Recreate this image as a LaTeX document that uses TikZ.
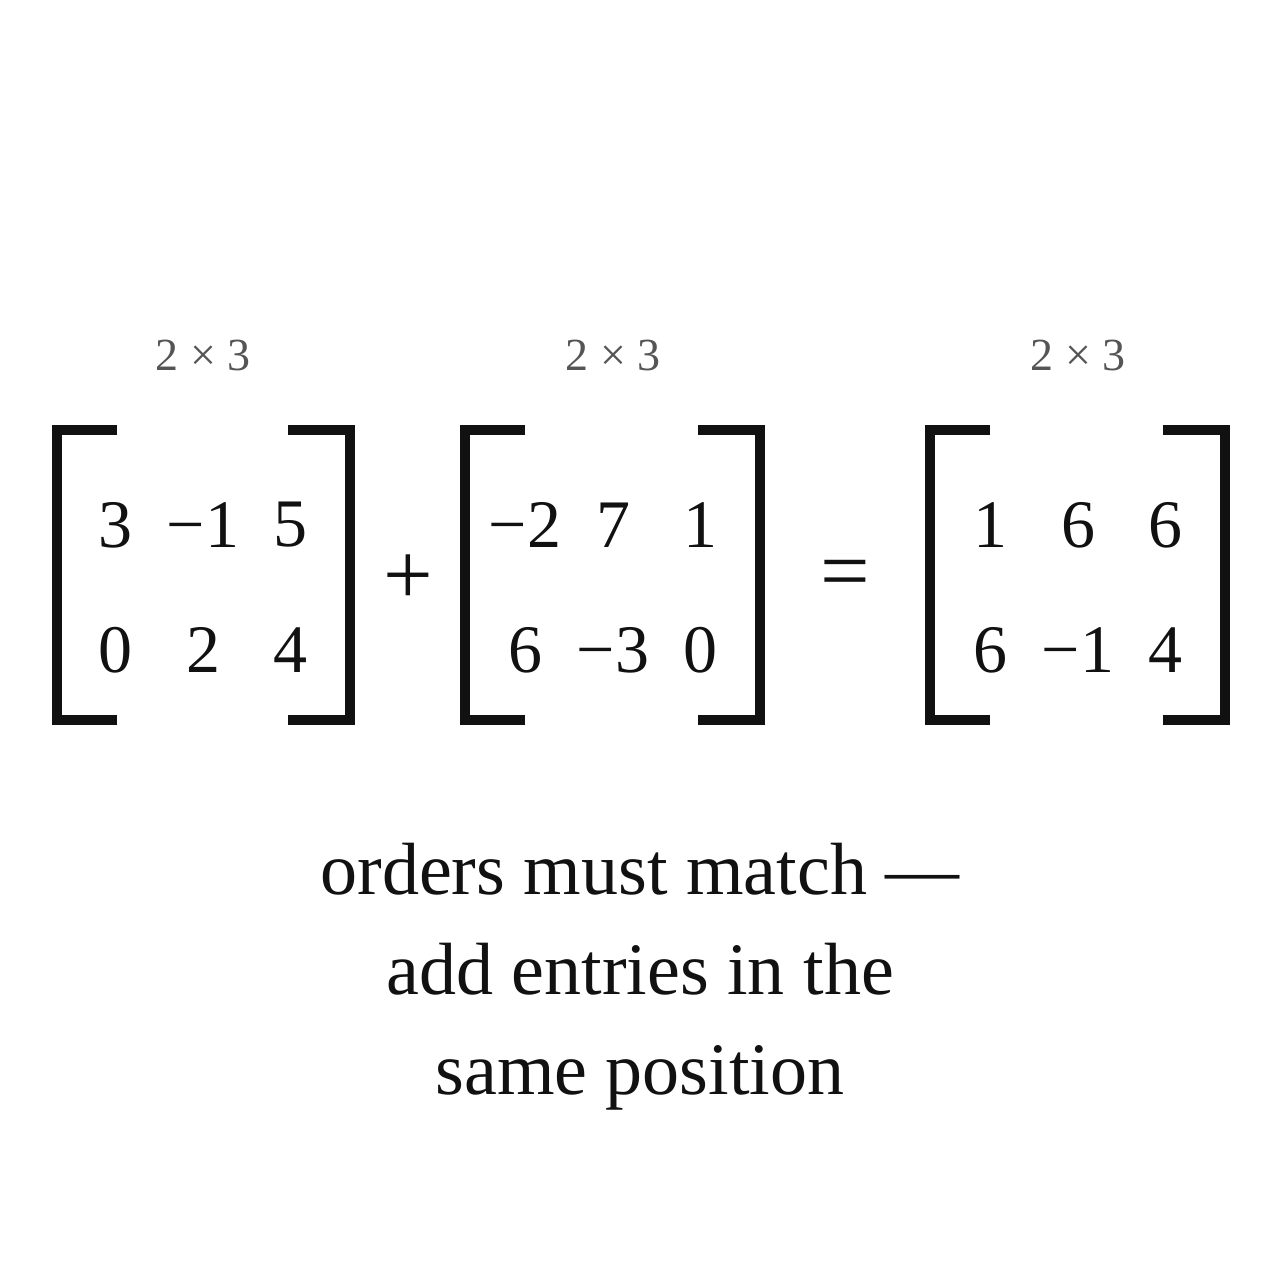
\documentclass[tikz,border=0pt]{standalone}
\usepackage{fontspec}
\setmainfont{Liberation Serif}
\begin{document}
\begin{tikzpicture}[x=0.5pt,y=-0.5pt,
  br/.style={line width=5pt,color={rgb,255:red,17;green,17;blue,17}},
  en/.style={font=\fontsize{34}{40}\selectfont,text={rgb,255:red,17;green,17;blue,17}},
  op/.style={font=\fontsize{44}{50}\selectfont,text={rgb,255:red,17;green,17;blue,17}},
  dim/.style={font=\fontsize{23}{25}\selectfont,text={rgb,255:red,85;green,85;blue,85}},
  captext/.style={font=\fontsize{37}{50}\selectfont,align=center,text={rgb,255:red,17;green,17;blue,17}}]
\useasboundingbox (0,0) rectangle (1280,1280);
\foreach \l/\r [count=\i] in {57/350,465/760,930/1225}{
  \draw[br] (\l+60,430) -- (\l,430) -- (\l,720) -- (\l+60,720);
  \draw[br] (\r-62,430) -- (\r,430) -- (\r,720) -- (\r-62,720);
}
\node[dim] (d1) at (203,355) {2 × 3};
\node[dim] (d2) at (613,355) {2 × 3};
\node[dim] (d3) at (1078,355) {2 × 3};
\foreach \x/\y/\t [count=\k] in {115/525/3,203/525/−1,290/525/5,115/650/0,203/650/2,290/650/4,
  525/525/−2,613/525/7,700/525/1,525/650/6,613/650/−3,700/650/0,
  990/525/1,1078/525/6,1165/525/6,990/650/6,1078/650/−1,1165/650/4}
  \node[en] (e\k) at (\x,\y) {\t};
\node[op] (plus) at (408,580) {+};
\node[op] (eq) at (845,580) {=};
\node[captext] (c) at (640,977) {orders must match —\\add entries in the\\same position};
\end{tikzpicture}
\end{document}
